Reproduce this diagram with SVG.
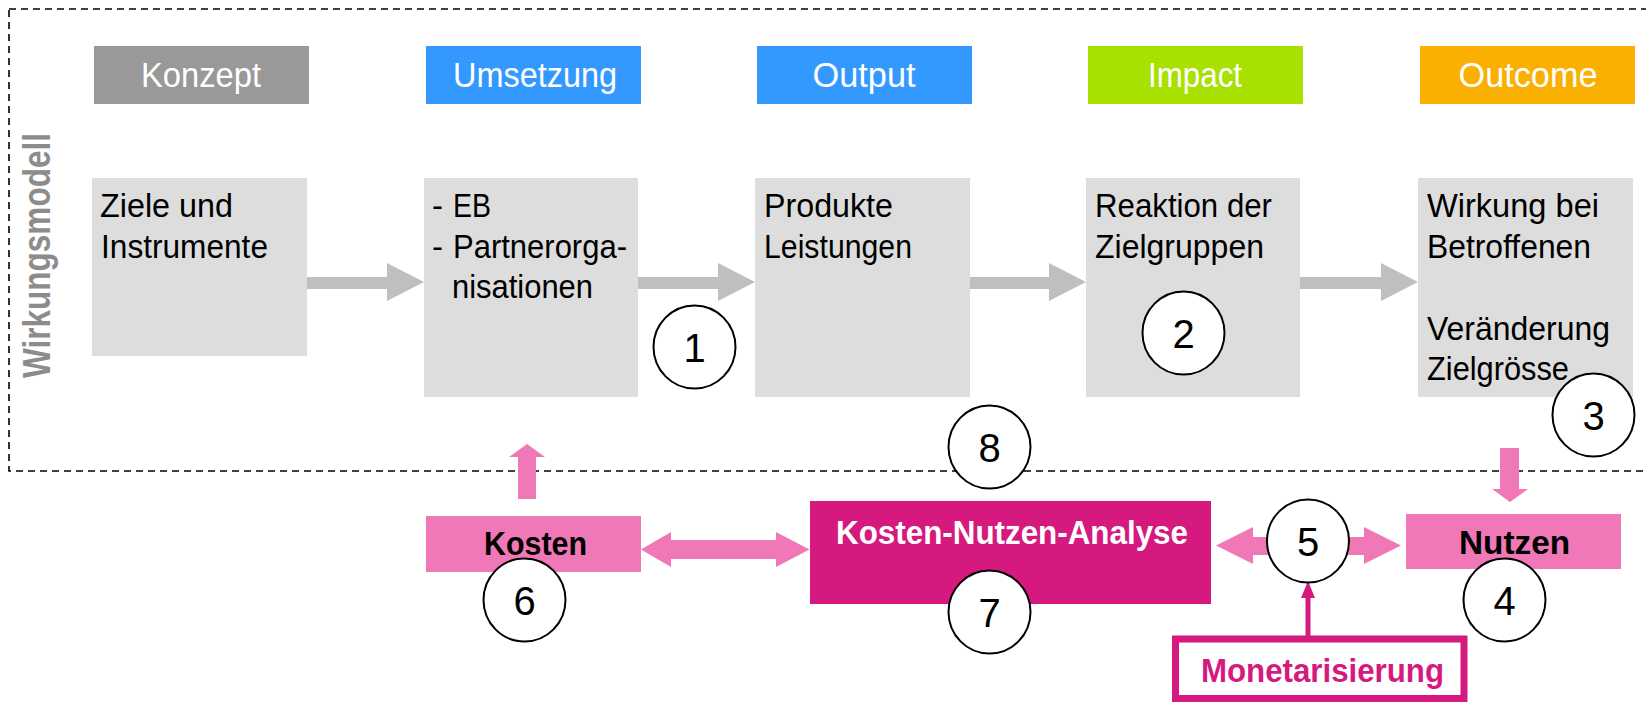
<svg xmlns="http://www.w3.org/2000/svg" width="1646" height="702" viewBox="0 0 1646 702">
<defs>
<style>
.hdr{font-family:"Liberation Sans",Arial,sans-serif;font-size:35px;fill:#fff;text-anchor:middle}
.body{font-family:"Liberation Sans",Arial,sans-serif;font-size:33px;fill:#000}
.bold{font-family:"Liberation Sans",Arial,sans-serif;font-size:34px;font-weight:bold}
.num{font-family:"Liberation Sans",Arial,sans-serif;font-size:40px;fill:#000;text-anchor:middle}
.box{fill:#dddddd}
.circ{fill:#fff;stroke:#000;stroke-width:2}
.garrow{fill:#bfbfbf}
.parrow{fill:#f178b6}
</style>
</defs>
<rect id="frame" x="9" y="9" width="1660" height="462" fill="none" stroke="#000" stroke-width="1.6" stroke-dasharray="7 5"/>
<g id="wirkungsmodell-label">
<text transform="translate(50,378) rotate(-90)" font-family="Liberation Sans, Arial, sans-serif" font-size="38" font-weight="bold" fill="#8c8c8c" textLength="245" lengthAdjust="spacingAndGlyphs">Wirkungsmodell</text>
</g>
<g id="connectors">
<polygon class="garrow" points="307,277 387,277 387,263 424,282 387,301 387,289 307,289"/>
<polygon class="garrow" points="638,277 718,277 718,263 755,282 718,301 718,289 638,289"/>
<polygon class="garrow" points="970,277 1049,277 1049,263 1086,282 1049,301 1049,289 970,289"/>
<polygon class="garrow" points="1300,277 1381,277 1381,263 1418,282 1381,301 1381,289 1300,289"/>
<polygon class="parrow" points="518,499 518,457 509,457 527,444 545,457 536,457 536,499"/>
<polygon class="parrow" points="1500,448 1519,448 1519,489 1528,489 1510,502 1492,489 1500,489"/>
<polygon class="parrow" points="641,549.5 671,532 671,540 776,540 776,532 809.5,549.5 776,567 776,559 671,559 671,567"/>
<polygon class="parrow" points="1216,545.5 1253,527 1253,537 1364,537 1364,527 1401,545.5 1364,564 1364,555 1253,555 1253,564"/>
<line x1="1308" y1="636" x2="1308" y2="596" stroke="#d6197e" stroke-width="5"/>
<polygon points="1301,598 1308,581 1315,598" fill="#d6197e"/>
</g>
<g id="konzept">
<rect x="94" y="46" width="215" height="58" fill="#999999"/>
<text class="hdr" x="201" y="87" textLength="120" lengthAdjust="spacingAndGlyphs">Konzept</text>
<rect class="box" x="92" y="178" width="215" height="178"/>
<text class="body" x="100" y="217" textLength="133" lengthAdjust="spacingAndGlyphs">Ziele und</text>
<text class="body" x="101" y="258" textLength="167" lengthAdjust="spacingAndGlyphs">Instrumente</text>
</g>
<g id="umsetzung">
<rect x="426" y="46" width="215" height="58" fill="#3399ff"/>
<text class="hdr" x="535" y="87" textLength="164" lengthAdjust="spacingAndGlyphs">Umsetzung</text>
<rect class="box" x="424" y="178" width="214" height="219"/>
<text class="body" x="432" y="217">-</text>
<text class="body" x="453" y="217" textLength="38" lengthAdjust="spacingAndGlyphs">EB</text>
<text class="body" x="432" y="258">-</text>
<text class="body" x="453" y="258" textLength="174" lengthAdjust="spacingAndGlyphs">Partnerorga-</text>
<text class="body" x="452" y="298" textLength="141" lengthAdjust="spacingAndGlyphs">nisationen</text>
</g>
<g id="output">
<rect x="757" y="46" width="215" height="58" fill="#3399ff"/>
<text class="hdr" x="864" y="87" textLength="103" lengthAdjust="spacingAndGlyphs">Output</text>
<rect class="box" x="755" y="178" width="215" height="219"/>
<text class="body" x="764" y="217" textLength="129" lengthAdjust="spacingAndGlyphs">Produkte</text>
<text class="body" x="764" y="258" textLength="148" lengthAdjust="spacingAndGlyphs">Leistungen</text>
</g>
<g id="impact">
<rect x="1088" y="46" width="215" height="58" fill="#a8e000"/>
<text class="hdr" x="1195" y="87" textLength="94" lengthAdjust="spacingAndGlyphs">Impact</text>
<rect class="box" x="1086" y="178" width="214" height="219"/>
<text class="body" x="1095" y="217" textLength="177" lengthAdjust="spacingAndGlyphs">Reaktion der</text>
<text class="body" x="1095" y="258" textLength="169" lengthAdjust="spacingAndGlyphs">Zielgruppen</text>
</g>
<g id="outcome">
<rect x="1420" y="46" width="215" height="58" fill="#fab000"/>
<text class="hdr" x="1528" y="87" textLength="139" lengthAdjust="spacingAndGlyphs">Outcome</text>
<rect class="box" x="1418" y="178" width="215" height="219"/>
<text class="body" x="1427" y="217" textLength="172" lengthAdjust="spacingAndGlyphs">Wirkung bei</text>
<text class="body" x="1427" y="258" textLength="164" lengthAdjust="spacingAndGlyphs">Betroffenen</text>
<text class="body" x="1427" y="340" textLength="183" lengthAdjust="spacingAndGlyphs">Veränderung</text>
<text class="body" x="1427" y="380" textLength="142" lengthAdjust="spacingAndGlyphs">Zielgrösse</text>
</g>
<g id="kosten">
<rect x="426" y="516" width="215" height="56" fill="#f178b6"/>
<text class="bold" x="484" y="555" fill="#000" textLength="103" lengthAdjust="spacingAndGlyphs">Kosten</text>
</g>
<g id="kosten-nutzen-analyse">
<rect x="810" y="501" width="401" height="103" fill="#d6197e"/>
<text class="bold" x="836" y="544" fill="#fff" textLength="352" lengthAdjust="spacingAndGlyphs">Kosten-Nutzen-Analyse</text>
</g>
<g id="nutzen">
<rect x="1406" y="514" width="215" height="55" fill="#f178b6"/>
<text class="bold" x="1459" y="554" fill="#000" textLength="111" lengthAdjust="spacingAndGlyphs">Nutzen</text>
</g>
<g id="monetarisierung">
<rect x="1175.5" y="639" width="288.5" height="59.5" fill="#fff" stroke="#d6197e" stroke-width="7"/>
<text class="bold" x="1201" y="682" fill="#d6197e" textLength="243" lengthAdjust="spacingAndGlyphs">Monetarisierung</text>
</g>
<g id="circle-1"><ellipse class="circ" cx="694.5" cy="347" rx="41" ry="41.5"/><text class="num" x="694.5" y="362">1</text></g>
<g id="circle-2"><ellipse class="circ" cx="1183.5" cy="333" rx="41" ry="41.5"/><text class="num" x="1183.5" y="348">2</text></g>
<g id="circle-3"><ellipse class="circ" cx="1593.5" cy="415" rx="41" ry="41.5"/><text class="num" x="1593.5" y="430">3</text></g>
<g id="circle-4"><ellipse class="circ" cx="1504.5" cy="600" rx="41" ry="41.5"/><text class="num" x="1504.5" y="615">4</text></g>
<g id="circle-5"><ellipse class="circ" cx="1308" cy="541" rx="41" ry="41.5"/><text class="num" x="1308" y="556">5</text></g>
<g id="circle-6"><ellipse class="circ" cx="524.5" cy="600" rx="41" ry="41.5"/><text class="num" x="524.5" y="615">6</text></g>
<g id="circle-7"><ellipse class="circ" cx="989.5" cy="612" rx="41" ry="41.5"/><text class="num" x="989.5" y="627">7</text></g>
<g id="circle-8"><ellipse class="circ" cx="989.5" cy="447" rx="41" ry="41.5"/><text class="num" x="989.5" y="462">8</text></g>
</svg>
